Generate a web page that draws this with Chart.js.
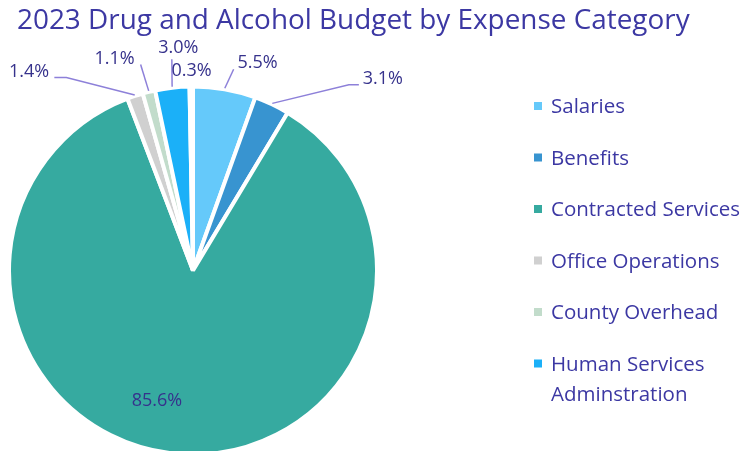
<!DOCTYPE html>
<html>
<head>
<meta charset="utf-8">
<title>2023 Drug and Alcohol Budget by Expense Category</title>
<script src="https://cdn.jsdelivr.net/npm/chart.js@4.4.1/dist/chart.umd.min.js"></script>
<style>
  html, body { margin: 0; padding: 0; background: #fff; overflow: hidden; }
  #wrap { width: 745px; height: 451px; position: relative; }
</style>
</head>
<body>
<div id="wrap"><canvas id="budget"></canvas></div>
<script>
const categories = ["Salaries", "Benefits", "Contracted Services", "Office Operations",
  "County Overhead", ["Human Services", "Adminstration"], ""];
const shares = [5.5, 3.1, 85.6, 1.4, 1.1, 3.0, 0.3];
const sliceColors = ["#65c9fa", "#3894d0", "#36aaa0", "#d0d0d0", "#c2dccb", "#1bb0f8", "#ffffff"];

const TEXT = "#3c38a3";
const LABEL = "#36328c";
const LEADER = "#8d80d9";
const FONT = "'Open Sans', 'Noto Sans', sans-serif";

// where each percentage sits, relative to the slice's outer midpoint
// (or the pie centre for "inside"), plus its leader polyline
const labelPlacement = [
  { at: "outer", dx: 33, dy: -21, leader: [[9, -20]] },
  { at: "outer", dx: 111, dy: -20, leader: [[77, -19.5], [87, -19.5]] },
  { at: "inside", dx: -36, dy: 135 },
  { at: "outer", dx: -106, dy: -18.6, leader: [[-68.7, -18.3], [-80.7, -18.3]] },
  { at: "outer", dx: -34.3, dy: -28, leader: [[-8.3, -27.3]] },
  { at: "outer", dx: 6, dy: -34.5, leader: [[-0.4, -28.5]] },
  { at: "outer", dx: 0.3, dy: -10.7 }
];

const decorations = {
  id: "decorations",
  afterDraw(chart) {
    const ctx = chart.ctx;
    ctx.save();

    // title
    ctx.fillStyle = TEXT;
    ctx.font = "27.9px " + FONT;
    ctx.textAlign = "left";
    ctx.textBaseline = "alphabetic";
    ctx.fillText("2023 Drug and Alcohol Budget by Expense Category", 17, 29);

    // percentage labels with leader lines
    const arcs = chart.getDatasetMeta(0).data;
    arcs.forEach((arc, i) => {
      const p = arc.getProps(["x", "y", "startAngle", "endAngle", "outerRadius"], true);
      const mid = (p.startAngle + p.endAngle) / 2;
      const place = labelPlacement[i];
      let ox = p.x, oy = p.y;
      if (place.at === "outer") {
        ox = p.x + Math.cos(mid) * p.outerRadius;
        oy = p.y + Math.sin(mid) * p.outerRadius;
      }
      if (place.leader) {
        ctx.strokeStyle = LEADER;
        ctx.lineWidth = 1.5;
        ctx.beginPath();
        ctx.moveTo(ox + Math.cos(mid) * 1, oy + Math.sin(mid) * 1);
        place.leader.forEach(([lx, ly]) => ctx.lineTo(ox + lx, oy + ly));
        ctx.stroke();
      }
      ctx.fillStyle = LABEL;
      ctx.font = "18px " + FONT;
      ctx.textAlign = "center";
      ctx.fillText(shares[i].toFixed(1) + "%", ox + place.dx, oy + place.dy);
    });

    // legend
    ctx.font = "20.5px " + FONT;
    ctx.textAlign = "left";
    let y = 113;
    categories.forEach((name, i) => {
      if (name === "") return;
      const lines = Array.isArray(name) ? name : [name];
      ctx.fillStyle = sliceColors[i];
      ctx.fillRect(534, y - 11, 8, 8);
      ctx.fillStyle = TEXT;
      lines.forEach((line, k) => ctx.fillText(line, 551, y + k * 30));
      y += 51.5;
    });

    ctx.restore();
  }
};

new Chart(document.getElementById("budget"), {
  type: "pie",
  data: {
    labels: categories,
    datasets: [{
      data: shares,
      backgroundColor: sliceColors,
      borderColor: "#ffffff",
      borderWidth: 4,
      radius: 184,
      clip: false
    }]
  },
  options: {
    responsive: true,
    maintainAspectRatio: false,
    animation: false,
    events: [],
    layout: { padding: { left: 0, right: 359, top: 90, bottom: -5 } },
    plugins: {
      legend: { display: false },
      title: { display: false },
      tooltip: { enabled: false }
    }
  },
  plugins: [decorations]
});
</script>
</body>
</html>
